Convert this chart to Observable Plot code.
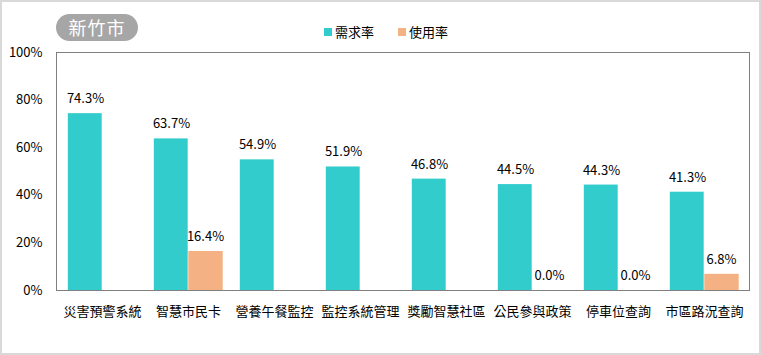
<!DOCTYPE html>
<html><head><meta charset="utf-8">
<script src="https://cdn.jsdelivr.net/npm/d3@7"></script>
<script src="https://cdn.jsdelivr.net/npm/@observablehq/plot@0.6"></script>
<style>
body{margin:0;background:#fff;}
#wrap{position:relative;width:761px;height:355px;overflow:hidden;font-family:"Noto Sans CJK TC","Noto Sans",sans-serif;}
#wrap svg{position:absolute;left:0;top:0;}
#border{position:absolute;left:0;top:0;width:757px;height:351px;border:2px solid #d9d9d9;pointer-events:none;}
#title{position:absolute;left:56px;top:14px;width:82px;height:27px;border-radius:14px;background:#a6a6a6;color:#fff;font-size:18px;line-height:27px;text-align:center;letter-spacing:1px;}
.lg{position:absolute;top:24px;font-size:13px;line-height:16px;color:#000;display:flex;align-items:center;}
.sw{width:8px;height:8px;margin-right:3px;display:inline-block;}
</style></head>
<body>
<div id="wrap">
  <div id="title">新竹市</div>
  <div id="lg0" class="lg" style="left:324px"><span class="sw"></span><span class="t"></span></div>
  <div id="lg1" class="lg" style="left:398px"><span class="sw"></span><span class="t"></span></div>
  <div id="border"></div>
</div>
<script>
const categories = ["災害預警系統","智慧市民卡","營養午餐監控","監控系統管理","獎勵智慧社區","公民參與政策","停車位查詢","市區路況查詢"];
const seriesNames = ["需求率","使用率"];
const demand = [74.3, 63.7, 54.9, 51.9, 46.8, 44.5, 44.3, 41.3];
const usage = [null, 16.4, null, null, null, 0.0, 0.0, 6.8];
const yTicks = [0, 20, 40, 60, 80, 100];
const colors = ["#33CCCC", "#F4B183"];

const demandRows = categories.map((c, i) => ({cat: c, value: demand[i]}));
const usageRows = categories.map((c, i) => ({cat: c, value: usage[i]})).filter(d => d.value != null);

["lg0","lg1"].forEach((id, i) => {
  const el = document.getElementById(id);
  el.querySelector(".sw").style.background = colors[i];
  el.querySelector(".t").textContent = seriesNames[i];
});

const fmt = d => d.value.toFixed(1) + "%";
const chart = Plot.plot({
  width: 761,
  height: 355,
  marginLeft: 56,
  marginRight: 12,
  marginTop: 52,
  marginBottom: 65,
  style: {fontFamily: '"Noto Sans CJK TC","Noto Sans",sans-serif', fontSize: "13px", color: "#000", background: "transparent"},
  x: {type: "band", domain: categories, padding: 0},
  y: {domain: [0, 100]},
  marks: [
    Plot.barY(demandRows, {x: "cat", y: "value", fill: colors[0], insetLeft: 8.8, insetRight: 43.3}),
    Plot.barY(usageRows, {x: "cat", y: "value", fill: colors[1], insetLeft: 43.3, insetRight: 8.3}),
    Plot.text(demandRows, {x: "cat", y: "value", text: fmt, dx: -17, dy: -10.5, lineAnchor: "bottom", fontSize: 13, fill: "#000"}),
    Plot.text(usageRows, {x: "cat", y: "value", text: fmt, dx: 17, dy: -10.5, lineAnchor: "bottom", fontSize: 13, fill: "#000"}),
    Plot.axisY({ticks: yTicks, tickFormat: d => d + "%", tickSize: 0, tickPadding: 14, label: null, fontSize: 13}),
    Plot.axisX({tickSize: 0, tickPadding: 16, label: null, fontSize: 13}),
    Plot.frame({stroke: "#7f7f7f"})
  ]
});
document.getElementById("wrap").insertBefore(chart, document.getElementById("title"));
</script>
</body></html>
